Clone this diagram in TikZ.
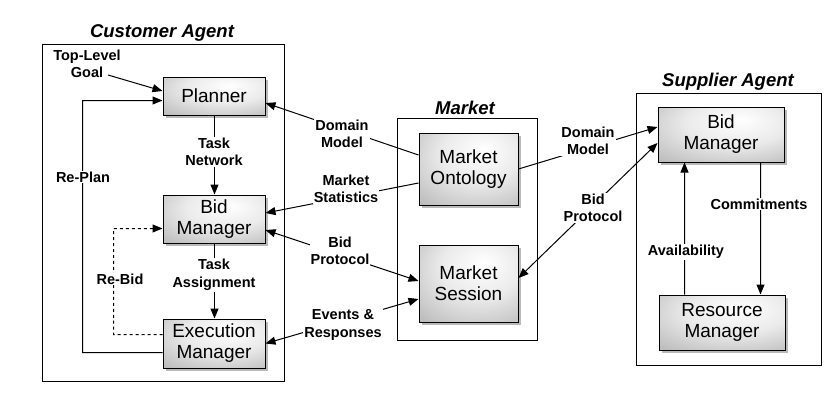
\documentclass[tikz,border=0pt]{standalone}
\usepackage{fontspec}
\setmainfont{Liberation Sans}
\usetikzlibrary{arrows.meta,shadows}
\pgfdeclareradialshading{boxshade}{\pgfpoint{8bp}{14bp}}{color(0bp)=(white);color(20bp)=(white!92!black);color(60bp)=(white!58!black);color(80bp)=(white!52!black)}
\tikzset{
  comp/.style={draw=black, line width=1bp, shading=boxshade, align=center,
    font=\fontsize{19bp}{21bp}\selectfont, inner sep=0pt,
    drop shadow={shadow xshift=2.5bp, shadow yshift=-2.5bp, fill=black!55, opacity=0.5}},
  lbl/.style={align=center, fill=white, inner sep=1bp, font=\fontsize{14.5bp}{17.5bp}\selectfont\bfseries},
  ttl/.style={anchor=base, font=\fontsize{18.5bp}{22bp}\selectfont\bfseries\itshape},
  cont/.style={draw=black, line width=1bp},
  conn/.style={line width=1bp},
  arr/.style={conn, -{Triangle[length=10bp,width=8bp]}},
  darr/.style={conn, {Triangle[length=10bp,width=8bp]}-{Triangle[length=10bp,width=8bp]}}
}
\begin{document}
\begin{tikzpicture}[x=1bp,y=-1bp]
\useasboundingbox (0,0) rectangle (840,407);
% containers
\draw[cont] (42.5,44.5) rectangle (284.5,381.5);
\draw[cont] (397.5,118.5) rectangle (537.5,340.5);
\draw[cont] (636.5,93.5) rectangle (821.5,365.5);
\node[ttl] (tcust) at (162,37) {Customer Agent};
\node[ttl] (tmark) at (465,114) {Market};
\node[ttl] (tsupp) at (728,86) {Supplier Agent};
% components
\node[comp, minimum width=102bp, minimum height=38bp] (planner) at (214,96) {Planner};
\node[comp, minimum width=102bp, minimum height=48bp] (bidc) at (214,219) {Bid\\Manager};
\node[comp, minimum width=102bp, minimum height=49bp] (exec) at (214,343.5) {Execution\\Manager};
\node[comp, minimum width=99bp, minimum height=72bp] (onto) at (468.5,169) {Market\\Ontology};
\node[comp, minimum width=99bp, minimum height=77bp] (sess) at (468.5,283.5) {Market\\Session};
\node[comp, minimum width=126bp, minimum height=55bp] (bids) at (721,134.5) {Bid\\Manager};
\node[comp, minimum width=126bp, minimum height=55bp] (res) at (722,322.5) {Resource\\Manager};
% customer internal
\node[lbl, fill=none] (goal) at (87,64) {Top-Level\\Goal};
\coordinate (goalend) at (108,75);
\draw[arr] (goalend) -- ([yshift=5bp]planner.west);
\coordinate (rp) at (82.5,100.5);
\draw[arr] ([yshift=-9bp]exec.west) -| (rp) -- ([yshift=-4.5bp]planner.west);
\node[lbl] (replan) at (83,177) {Re-Plan};
\coordinate (rb) at (113.5,228.5);
\draw[arr, dashed] ([yshift=9bp]exec.west) -| (rb) -- ([yshift=-9.5bp]bidc.west);
\node[lbl] (rebid) at (120,279) {Re-Bid};
\draw[arr] ([xshift=0.5bp]planner.south) -- ([xshift=0.5bp]bidc.north);
\node[lbl] (tnet) at (214,152) {Task\\Network};
\draw[arr] ([xshift=0.5bp]bidc.south) -- ([xshift=0.5bp]exec.north);
\node[lbl] (tass) at (214,275) {Task\\Assignment};
% market links
\draw[arr] ([yshift=14bp]onto.west) -- ([yshift=-7bp]planner.east);
\node[lbl] (dm1) at (342,134) {Domain\\Model};
\draw[arr] ([yshift=-14bp]onto.west) -- ([yshift=6bp]bidc.east);
\node[lbl] (ms) at (346,189) {Market\\Statistics};
\draw[darr] ([yshift=-11bp]bidc.east) -- ([yshift=2.5bp]sess.west);
\node[lbl] (bp1) at (340,251) {Bid\\Protocol};
\draw[darr] (exec.east) -- ([yshift=-15.5bp]sess.west);
\node[lbl] (er) at (343,325) {Events \&\\Responses};
\draw[arr] (onto.east) -- ([yshift=7.5bp]bids.west);
\node[lbl] (dm2) at (588,141) {Domain\\Model};
\draw[darr] ([yshift=5.5bp]sess.east) -- ([yshift=-8.5bp]bids.west);
\node[lbl] (bp2) at (593,208) {Bid\\Protocol};
% supplier internal
\draw[arr] ([xshift=-37.5bp]res.north) -- ([xshift=-36.5bp]bids.south);
\node[lbl] (avail) at (686,252) {Availability};
\draw[arr] ([xshift=39.5bp]bids.south) -- ([xshift=38.5bp]res.north);
\node[lbl] (commit) at (759,204) {Commitments};
\end{tikzpicture}
\end{document}
